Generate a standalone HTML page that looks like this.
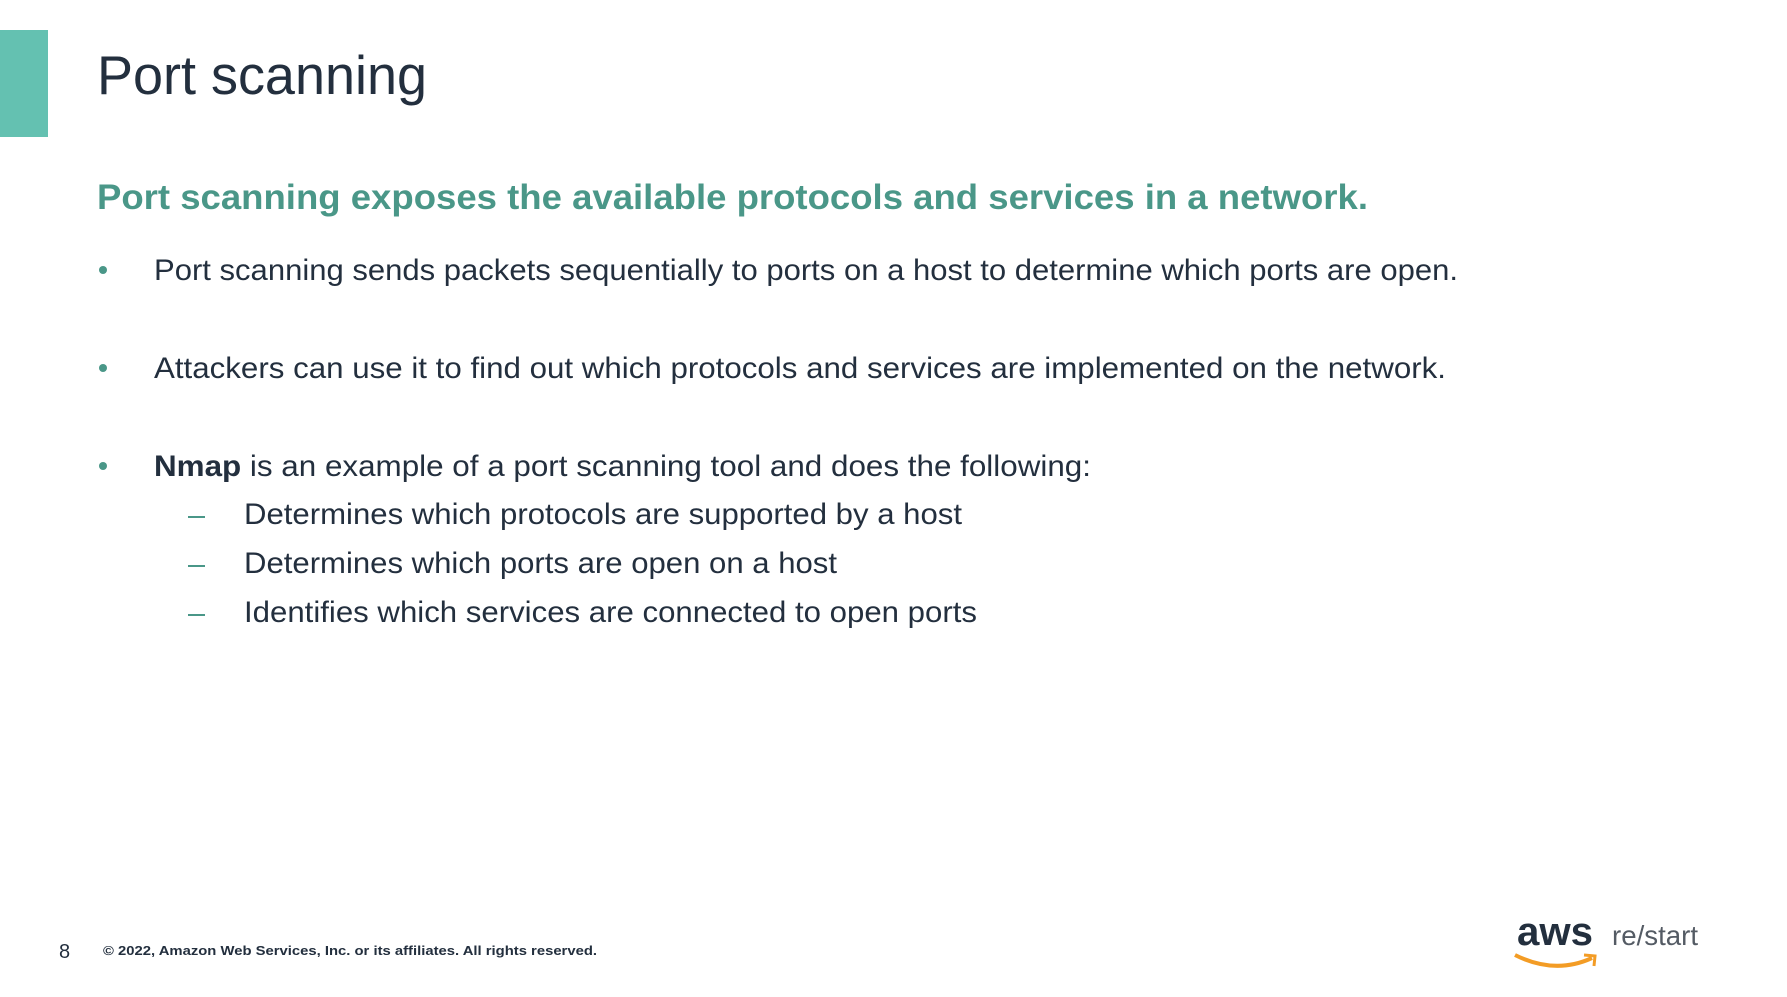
<!DOCTYPE html>
<html><head><meta charset="utf-8"><style>
html,body{margin:0;padding:0;background:#fff;}
svg{display:block}
</style></head><body>
<svg width="1787" height="997" viewBox="0 0 1787 997" xmlns="http://www.w3.org/2000/svg" font-family="Liberation Sans, sans-serif">
<rect x="0" y="30" width="48" height="107" fill="#64c1b1"/>
<text x="97" y="94" font-size="55" fill="#232f3e" textLength="330" lengthAdjust="spacingAndGlyphs">Port scanning</text>
<text x="97" y="209" font-size="35" font-weight="bold" fill="#4a9788" textLength="1271" lengthAdjust="spacingAndGlyphs">Port scanning exposes the available protocols and services in a network.</text>
<g font-size="30" fill="#232f3e">
<circle cx="103" cy="270" r="4" fill="#4a9788"/>
<text x="154" y="280" textLength="1304" lengthAdjust="spacingAndGlyphs">Port scanning sends packets sequentially to ports on a host to determine which ports are open.</text>
<circle cx="103" cy="368" r="4" fill="#4a9788"/>
<text x="154" y="378" textLength="1292" lengthAdjust="spacingAndGlyphs">Attackers can use it to find out which protocols and services are implemented on the network.</text>
<circle cx="103" cy="466" r="4" fill="#4a9788"/>
<text x="154" y="476" textLength="937" lengthAdjust="spacingAndGlyphs"><tspan font-weight="bold">Nmap</tspan> is an example of a port scanning tool and does the following:</text>
<rect x="188" y="516" width="17" height="2" fill="#4a9788"/>
<text x="244" y="524" textLength="718" lengthAdjust="spacingAndGlyphs">Determines which protocols are supported by a host</text>
<rect x="188" y="565" width="17" height="2" fill="#4a9788"/>
<text x="244" y="573" textLength="593" lengthAdjust="spacingAndGlyphs">Determines which ports are open on a host</text>
<rect x="188" y="614" width="17" height="2" fill="#4a9788"/>
<text x="244" y="622" textLength="733" lengthAdjust="spacingAndGlyphs">Identifies which services are connected to open ports</text>
</g>
<text x="59" y="958" font-size="20" fill="#232f3e">8</text>
<text x="103" y="955" font-size="13" font-weight="bold" fill="#232f3e" textLength="494" lengthAdjust="spacingAndGlyphs">© 2022, Amazon Web Services, Inc. or its affiliates. All rights reserved.</text>
<text x="1517" y="945" font-size="40" font-weight="bold" fill="#232f3e" textLength="76" lengthAdjust="spacingAndGlyphs">aws</text>
<path d="M1515 955 Q1555 975 1592 958" stroke="#f39c25" stroke-width="4" fill="none"/>
<path d="M1584 955 L1595 956 L1594 966" stroke="#f39c25" stroke-width="3" fill="none"/>
<text x="1612" y="945" font-size="28" fill="#545b64" textLength="86" lengthAdjust="spacingAndGlyphs">re/start</text>
</svg>
</body></html>
